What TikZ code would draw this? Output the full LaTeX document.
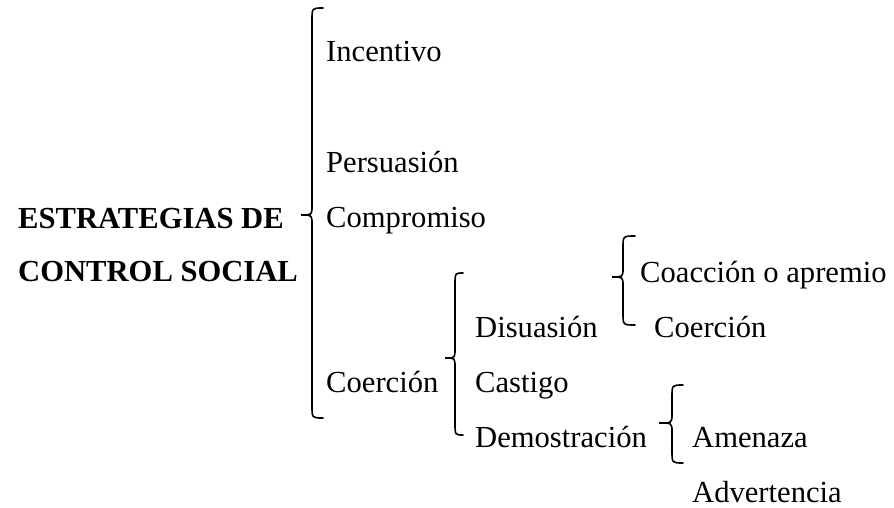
\documentclass[tikz,border=0pt]{standalone}
\usepackage{fontspec}
\setmainfont{Liberation Serif}
\newcommand\mybrace[6]{% xe xv xt ytop ytip ybot
  \draw[bracestyle] (#1,#4) .. controls (#2,#4) .. (#2,#4+12) -- (#2,#5-9)
    .. controls (#2,#5) .. (#3,#5) .. controls (#2,#5) .. (#2,#5+9)
    -- (#2,#6-12) .. controls (#2,#6) .. (#1,#6);}
\begin{document}
\begin{tikzpicture}[x=1pt,y=-1pt,
  lbl/.style={anchor=base west,inner sep=0pt,font=\fontsize{30.6}{36}\selectfont},
  bold/.style={lbl,font=\fontsize{30.6}{36}\selectfont\bfseries},
  bracestyle/.style={line width=1.6pt,line cap=round}]
\useasboundingbox (0,0) rectangle (894,508);
\node[bold] (t1) at (18,228) {ESTRATEGIAS DE};
\node[bold] (t2) at (18,281) {CONTROL SOCIAL};
\node[lbl] (inc) at (326,62) {Incentivo};
\node[lbl] (per) at (326,172) {Persuasión};
\node[lbl] (com) at (326,227) {Compromiso};
\node[lbl] (coe) at (326,392) {Coerción};
\node[lbl] (dis) at (475,337) {Disuasión};
\node[lbl] (cas) at (475,392) {Castigo};
\node[lbl] (dem) at (475,447) {Demostración};
\node[lbl] (coa) at (640,282) {Coacción o apremio};
\node[lbl] (coe2) at (654,337) {Coerción};
\node[lbl] (ame) at (692,447) {Amenaza};
\node[lbl] (adv) at (692,502) {Advertencia};
\mybrace{323}{312}{301}{8}{215}{418}
\mybrace{463}{455}{445}{273}{358}{435}
\mybrace{635}{623}{612}{236}{277}{325}
\mybrace{683}{672}{659}{385}{423}{463}
\end{tikzpicture}
\end{document}
